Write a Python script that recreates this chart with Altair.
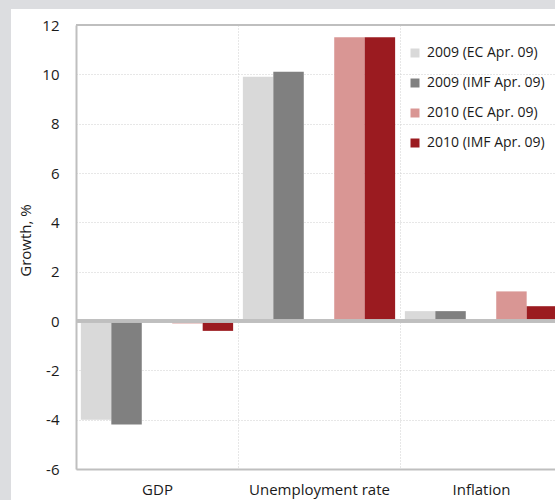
import altair as alt
import pandas as pd

# Forecast figures (%), one list per forecast series, in category order
categories = ["GDP", "Unemployment rate", "Inflation"]
series = ["2009 (EC Apr. 09)", "2009 (IMF Apr. 09)", "2010 (EC Apr. 09)", "2010 (IMF Apr. 09)"]
ec_2009 = [-4.0, 9.9, 0.4]
imf_2009 = [-4.2, 10.1, 0.4]
ec_2010 = [-0.1, 11.5, 1.2]
imf_2010 = [-0.4, 11.5, 0.6]
colors = ["#d9d9d9", "#808080", "#d99694", "#9b1b20"]
y_ticks = [-6, -4, -2, 0, 2, 4, 6, 8, 10, 12]

rows = []
for name, vals in zip(series, [ec_2009, imf_2009, ec_2010, imf_2010]):
    for cat, v in zip(categories, vals):
        rows.append({"category": cat, "series": name, "value": v})
df = pd.DataFrame(rows)

# slots inside each group: two 2009 bars, an empty slot, two 2010 bars
slots = series[:2] + [" "] + series[2:]

W, H = 479, 444          # visible plot area
BAND_SPAN = 486          # the category bands run slightly past the right edge
FONT = "Open Sans"
TEXT = "#1a1a1a"
LINE = "#bfbfbf"
GRID = "#cfcfcf"
FRAME = "#dcdde0"

x_enc = alt.X(
    "category:N",
    sort=categories,
    scale=alt.Scale(range=[0, BAND_SPAN], paddingInner=0, paddingOuter=0),
    axis=alt.Axis(
        title=None, labelAngle=0, labelFont=FONT, labelFontSize=15, labelColor=TEXT,
        labelPadding=13, tickSize=0, domainColor=LINE, domainWidth=2,
        grid=True, tickBand="extent", gridColor=GRID, gridDash=[1, 2], gridWidth=1,
    ),
)
y_enc = alt.Y(
    "value:Q",
    scale=alt.Scale(domain=[-6, 12], nice=False, zero=False),
    axis=alt.Axis(
        values=y_ticks, labelExpr="toString(datum.value)",
        title="Growth, %", titleFont=FONT, titleFontSize=15,
        titleFontWeight="normal", titleColor=TEXT, titleAngle=-90,
        titleX=-46, titleY=H / 2 - 7, titleAlign="center", titleBaseline="alphabetic",
        labelFont=FONT, labelFontSize=15, labelColor=TEXT, labelPadding=17, tickSize=0,
        domainColor=LINE, domainWidth=2,
        grid=True, gridColor=GRID, gridDash=[1, 2], gridWidth=1,
    ),
)

bars = alt.Chart(df).mark_bar(clip=True).encode(
    x=x_enc,
    xOffset=alt.XOffset(
        "series:N",
        scale=alt.Scale(domain=slots, paddingInner=0, paddingOuter=0.16),
    ),
    y=y_enc,
    color=alt.Color(
        "series:N",
        scale=alt.Scale(domain=series, range=colors),
        legend=alt.Legend(
            title=None, orient="none", legendX=332, legendY=21,
            symbolType="square", symbolSize=81, symbolStrokeWidth=0,
            labelFont=FONT, labelFontSize=14, labelColor=TEXT, labelOffset=5,
            rowPadding=16, padding=0,
        ),
    ),
)

# zero line and top border of the plot
zero_line = alt.Chart(df).mark_rule(color=LINE, strokeWidth=2.5).encode(y=alt.datum(0))
top_line = alt.Chart(df).mark_rule(color=LINE, strokeWidth=1.5).encode(y=alt.datum(12))

# thin grey frame strips along the top and left edges of the page
frame_top = alt.Chart(df).mark_rect(color=FRAME, clip=False).encode(
    x=alt.value(-76), x2=alt.value(W + 10), y=alt.value(-25), y2=alt.value(-16)
)
frame_left = alt.Chart(df).mark_rect(color=FRAME, clip=False).encode(
    x=alt.value(-76), x2=alt.value(-65), y=alt.value(-25), y2=alt.value(H + 40)
)

chart = (
    alt.layer(bars, zero_line, top_line, frame_top, frame_left)
    .properties(
        width=W, height=H,
        background="white",
        padding={"left": 76, "top": 25, "right": 0, "bottom": 31},
        autosize=alt.AutoSizeParams(type="none"),
    )
    .configure_view(stroke=None)
)

chart.save("out.html", embed_options={"renderer": "svg", "actions": False})
